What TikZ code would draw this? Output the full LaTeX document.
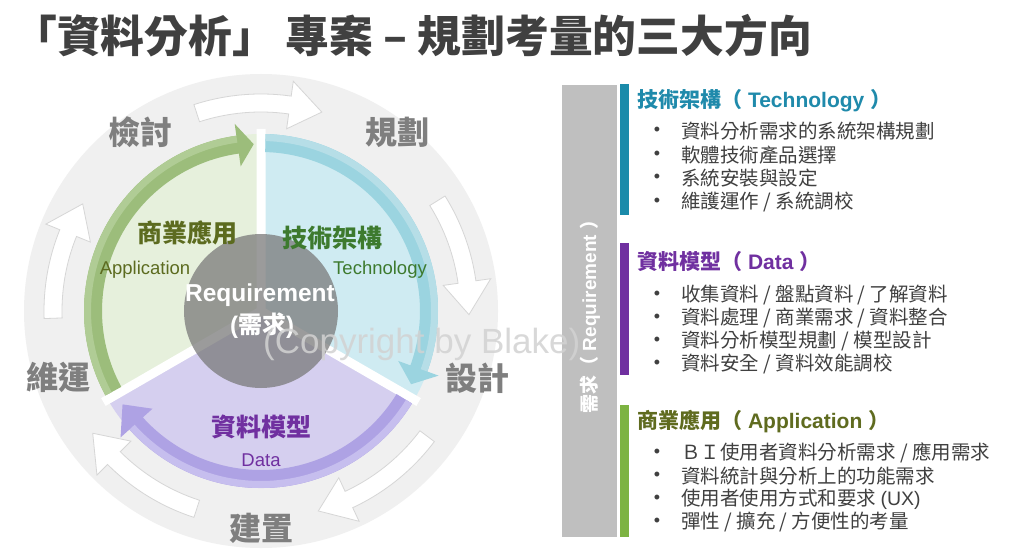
\documentclass[tikz,border=0pt]{standalone}
\usepackage{fontspec}
\setmainfont{Liberation Sans}
\newfontfamily\cjk{Noto Sans CJK TC}
\definecolor{ringgray}{HTML}{F0F0F0}
\definecolor{ringline}{HTML}{D6D6D6}
\definecolor{techfill}{HTML}{CFEBF2}
\definecolor{techband}{HTML}{9BD4E0}
\definecolor{techlight}{HTML}{B6DEE7}
\definecolor{appfill}{HTML}{E6F0DC}
\definecolor{appband}{HTML}{9CBD7B}
\definecolor{applight}{HTML}{B0CC95}
\definecolor{datafill}{HTML}{D5CFEF}
\definecolor{databand}{HTML}{AEA2E4}
\definecolor{datalight}{HTML}{C6BEEE}
\definecolor{reqgray}{HTML}{7A7A7A}
\definecolor{labelgray}{HTML}{7F7F7F}
\definecolor{titlegray}{HTML}{404040}
\definecolor{textgray}{HTML}{404040}
\definecolor{headtech}{HTML}{1F8AAB}
\definecolor{headdata}{HTML}{7030A0}
\definecolor{headapp}{HTML}{5F6B1F}
\definecolor{bartech}{HTML}{1B8BAA}
\definecolor{bardata}{HTML}{7030A0}
\definecolor{barapp}{HTML}{7DB342}
\definecolor{sidebar}{HTML}{BFBFBF}
\definecolor{appword}{HTML}{5C6B1F}
\definecolor{techword}{HTML}{3D7A2E}
\definecolor{wmark}{HTML}{D2D2D2}
\newcommand\ringarrow[3]{%
  \filldraw[ringarrowstyle] (#1:199) arc[start angle=#1,end angle=#2,radius=199]
    -- (#2:184) -- (#3:208) -- (#2:232) -- (#2:217)
    arc[start angle=#2,end angle=#1,radius=217] -- cycle;}
\newcommand\bandarrow[5]{%
  \fill[#4] (#1:159) arc[start angle=#1,end angle=#2,radius=159]
    -- (#2:146) -- (#3:167) -- (#2:189) -- (#2:177)
    arc[start angle=#2,end angle=#1,radius=177] -- cycle;
  \draw[#5, line width=7] (#1:173.5) arc[start angle=#1,end angle=#2,radius=173.5];}
\tikzset{
  ringarrowstyle/.style={fill=white, draw=ringline, line width=0.8},
  ringlabel/.style={text=labelgray, font=\cjk\bfseries\fontsize{32}{36}\selectfont, inner sep=0},
  sectortitle/.style={font=\cjk\bfseries\fontsize{25}{30}\selectfont, inner sep=0},
  sectorsub/.style={font=\fontsize{18.5}{22}\selectfont, inner sep=0},
  heading/.style={anchor=west, font=\bfseries\fontsize{21}{25}\selectfont, inner sep=0},
  bul/.style={anchor=center, text=textgray, font=\fontsize{18}{20}\selectfont, inner sep=0},
  item/.style={anchor=west, text=textgray, font=\cjk\fontsize{19.5}{23}\selectfont, inner sep=0},
}
\begin{document}
\begin{tikzpicture}[x=1pt,y=1pt]
\useasboundingbox (0,0) rectangle (1024,558);
\fill[white] (0,0) rectangle (1024,558);

% title
\node[anchor=west, text=titlegray, font=\cjk\bfseries\fontsize{43.8}{50}\selectfont, inner sep=0] (title) at (13,522) {「資料分析」 專案 – 規劃考量的三大方向};

% ring and pie
\begin{scope}[shift={(261,247)}]
  \fill[ringgray] (0,0) circle[radius=237];
  \ringarrow{108}{82}{73}
  \ringarrow{32}{8}{-1}
  \ringarrow{-37}{-65}{-74}
  \ringarrow{252}{225}{216}
  \ringarrow{182}{158}{149}
  \fill[techfill] (0,0) -- (90:177) arc[start angle=90,end angle=-30,radius=177] -- cycle;
  \fill[appfill] (0,0) -- (90:177) arc[start angle=90,end angle=210,radius=177] -- cycle;
  \fill[datafill] (0,0) -- (210:177) arc[start angle=210,end angle=330,radius=177] -- cycle;
  \draw[white, line width=9] (0,0) -- (90:182) (0,0) -- (210:182) (0,0) -- (330:182);
  \bandarrow{208.5}{98}{92.5}{appband}{applight}
  \bandarrow{88.5}{-20}{-26}{techband}{techlight}
  \bandarrow{-31.5}{-138}{-146}{databand}{datalight}
  \fill[reqgray, opacity=0.75] (0,0) circle[radius=77];
\end{scope}

% ring labels
\node[ringlabel] (review) at (140,426) {檢討};
\node[ringlabel] (plan) at (397,426) {規劃};
\node[ringlabel] (design) at (477,180) {設計};
\node[ringlabel] (build) at (261,30) {建置};
\node[ringlabel] (maint) at (58,181) {維運};

% sector labels
\node[sectortitle, text=appword] (appt) at (187,325) {商業應用};
\node[sectorsub, text=appword] (apps) at (145,288) {Application};
\node[sectortitle, text=techword] (techt) at (332,320) {技術架構};
\node[sectorsub, text=techword] (techs) at (380,288) {Technology};
\node[sectortitle, text=headdata] (datat) at (261,131) {資料模型};
\node[sectorsub, text=headdata] (datas) at (261,98) {Data};
\node[text=white, font=\bfseries\fontsize{24.5}{28}\selectfont, inner sep=0] (req) at (260,263) {Requirement};
\node[text=white, font=\bfseries\fontsize{24}{28}\selectfont, inner sep=0] (reqzh) at (262,232) {({\cjk 需求})};

% right panel
\fill[sidebar] (562,21) rectangle (617,473);
\fill[bartech] (620,343) rectangle (629,474);
\fill[bardata] (620,183) rectangle (629,315);
\fill[barapp] (620,21) rectangle (629,153);
\node[rotate=90, text=white, font=\bfseries\fontsize{19}{23}\selectfont, inner sep=0] (side) at (590,246) {{\cjk 需求（} Requirement {\cjk ）}};

\node[heading, text=headtech] (h1) at (637,457) {{\cjk 技術架構（} Technology {\cjk ）}};
\node[bul] (b11) at (657,427) {•}; \node[item] (t11) at (681,427) {資料分析需求的系統架構規劃};
\node[bul] (b12) at (657,403) {•}; \node[item] (t12) at (681,403) {軟體技術產品選擇};
\node[bul] (b13) at (657,380) {•}; \node[item] (t13) at (681,380) {系統安裝與設定};
\node[bul] (b14) at (657,356) {•}; \node[item] (t14) at (681,356) {維護運作 / 系統調校};

\node[heading, text=headdata] (h2) at (637,296) {{\cjk 資料模型（} Data {\cjk ）}};
\node[bul] (b21) at (657,263) {•}; \node[item] (t21) at (681,263) {收集資料 / 盤點資料 / 了解資料};
\node[bul] (b22) at (657,240) {•}; \node[item] (t22) at (681,240) {資料處理 / 商業需求 / 資料整合};
\node[bul] (b23) at (657,217) {•}; \node[item] (t23) at (681,217) {資料分析模型規劃 / 模型設計};
\node[bul] (b24) at (657,194) {•}; \node[item] (t24) at (681,194) {資料安全 / 資料效能調校};

\node[heading, text=headapp] (h3) at (637,136) {{\cjk 商業應用（} Application {\cjk ）}};
\node[bul] (b31) at (657,105) {•}; \node[item] (t31) at (681,105) {ＢＩ使用者資料分析需求 / 應用需求};
\node[bul] (b32) at (657,82) {•}; \node[item] (t32) at (681,82) {資料統計與分析上的功能需求};
\node[bul] (b33) at (657,59) {•}; \node[item] (t33) at (681,59) {使用者使用方式和要求 {\rmfamily (UX)}};
\node[bul] (b34) at (657,36) {•}; \node[item] (t34) at (681,36) {彈性 / 擴充 / 方便性的考量};

% watermark
\node[anchor=west, text=wmark, opacity=0.85, font=\fontsize{35}{40}\selectfont, inner sep=0] (wm) at (263,214) {(Copyright by Blake)};
\end{tikzpicture}
\end{document}
